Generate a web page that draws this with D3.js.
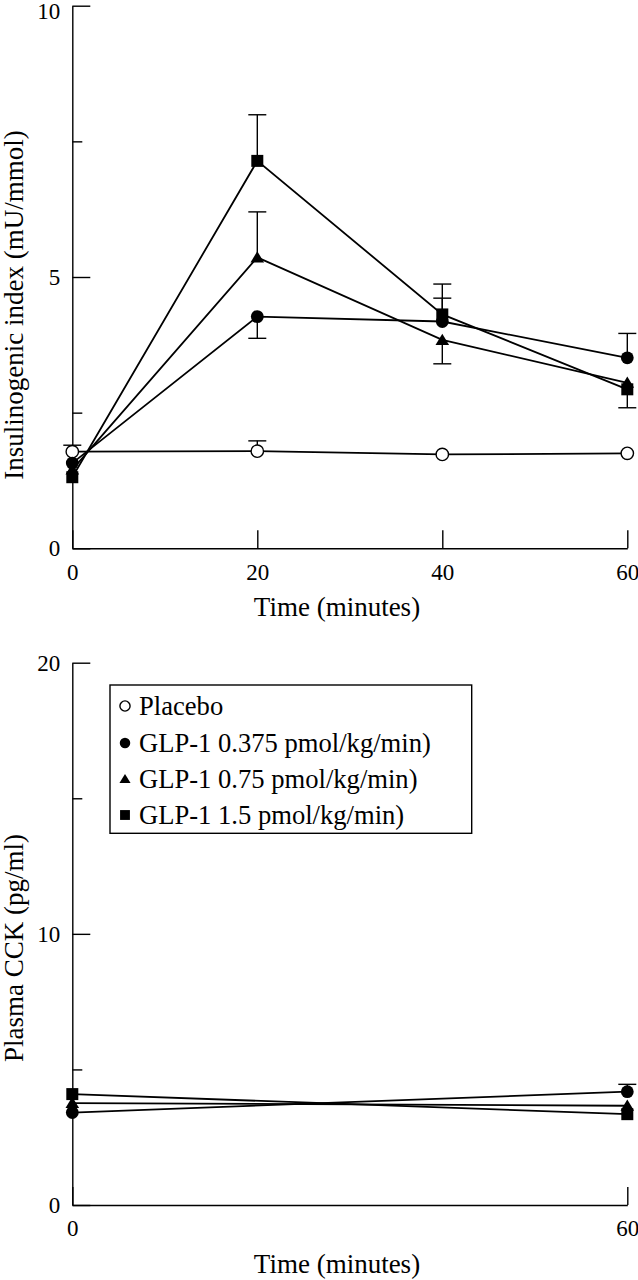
<!DOCTYPE html>
<html>
<head>
<meta charset="utf-8">
<script src="https://cdn.jsdelivr.net/npm/d3@7"></script>
<style>
  html, body { margin: 0; padding: 0; background: #ffffff; }
  svg { display: block; }
  text { font-family: "Liberation Serif", "Times New Roman", serif; fill: #000; }
</style>
</head>
<body>
<svg id="chart" width="638" height="1280"></svg>
<script>
// ---------- Data ----------
const timesTop = [0, 20, 40, 60];
const seriesNames = ["Placebo", "GLP-1 0.375 pmol/kg/min)", "GLP-1 0.75 pmol/kg/min)", "GLP-1 1.5 pmol/kg/min)"];
const seriesShapes = ["openCircle", "circle", "triangle", "square"];

// Insulinogenic index (mU/mmol) means
const placeboIdx = [1.78, 1.79, 1.73, 1.75];
const glpLowIdx  = [1.57, 4.27, 4.18, 3.51];
const glpMidIdx  = [1.45, 5.36, 3.84, 3.05];
const glpHighIdx = [1.31, 7.14, 4.31, 2.93];
// error bar end values (null = not visible)
const placeboIdxErr = [1.90, 1.98, null, null];
const glpLowIdxErr  = [null, 3.87, 4.61, 3.96];
const glpMidIdxErr  = [null, 6.20, 3.40, null];
const glpHighIdxErr = [null, 7.99, 4.87, 2.59];

// Plasma CCK (pg/ml)
const timesBottom = [0, 60];
const glpLowCck  = [3.41, 4.18];
const glpMidCck  = [3.76, 3.66];
const glpHighCck = [4.09, 3.35];
const glpLowCckErr  = [null, 4.45];
const glpMidCckErr  = [null, null];
const glpHighCckErr = [null, null];

const topYTicks = [0, 5, 10];
const topYMinor = [2.5, 7.5];
const topXTicks = [0, 20, 40, 60];
const botYTicks = [0, 10, 20];
const botYMinor = [5, 15];
const botXTicks = [0, 60];

// ---------- Drawing ----------
const svg = d3.select("#chart");

function drawMarker(g, shape, cx, cy, s) {
  if (shape === "openCircle") {
    g.append("circle").attr("cx", cx).attr("cy", cy).attr("r", 6.2 * s)
      .attr("fill", "#fff").attr("stroke", "#000").attr("stroke-width", 1.4);
  } else if (shape === "circle") {
    g.append("circle").attr("cx", cx).attr("cy", cy).attr("r", 6.4 * s).attr("fill", "#000");
  } else if (shape === "square") {
    const h = 6 * s;
    g.append("rect").attr("x", cx - h).attr("y", cy - h).attr("width", 2 * h).attr("height", 2 * h).attr("fill", "#000");
  } else if (shape === "triangle") {
    const w = 6.8 * s, hh = 6.2 * s;
    g.append("path").attr("d", `M${cx},${cy - hh}L${cx + w},${cy + hh * 0.8}L${cx - w},${cy + hh * 0.8}Z`).attr("fill", "#000");
  }
}

function panel(cfg) {
  const x = d3.scaleLinear().domain([0, 60]).range([72.3, 627.3]);
  const y = d3.scaleLinear().domain(cfg.yDomain).range(cfg.yRange);
  const g = svg.append("g");

  // y axis (ticks pointing inward)
  const yAxis = d3.axisLeft(y).tickValues(cfg.yTicks).tickSize(-18).tickSizeOuter(0).tickPadding(12)
    .tickFormat(d3.format("d"));
  const ya = g.append("g").attr("transform", `translate(${x(0)},0)`).call(yAxis);
  const yMinor = d3.axisLeft(y).tickValues(cfg.yMinor).tickSize(-10).tickSizeOuter(0).tickFormat("");
  const ym = g.append("g").attr("transform", `translate(${x(0)},0)`).call(yMinor);
  ym.select(".domain").remove();

  // x axis
  const xAxis = d3.axisBottom(x).tickValues(cfg.xTicks).tickSize(-18).tickSizeOuter(0).tickPadding(15)
    .tickFormat(d3.format("d"));
  const xa = g.append("g").attr("transform", `translate(0,${y(0)})`).call(xAxis);

  [ya, ym, xa].forEach(a => {
    a.selectAll("path, line").attr("stroke", "#000").attr("stroke-width", 1.4);
    a.selectAll("text").attr("font-size", 23).attr("font-family", "Liberation Serif");
  });
  // keep the top label inside the page
  ya.selectAll(".tick text").filter(d => y(d) < 12).attr("dy", "0.56em");

  // titles
  g.append("text").attr("x", 337).attr("y", cfg.xTitleY).attr("text-anchor", "middle")
    .attr("font-size", 27).text("Time (minutes)");
  g.append("text").attr("transform", `translate(23,${cfg.yTitleCenter}) rotate(-90)`)
    .attr("text-anchor", "middle").attr("font-size", 27).text(cfg.yTitle);

  const line = d3.line().x(d => x(d[0])).y(d => y(d[1]));

  // lines
  cfg.series.forEach(s => {
    const pts = cfg.times.map((t, i) => [t, s.values[i]]);
    g.append("path").attr("d", line(pts)).attr("fill", "none").attr("stroke", "#000").attr("stroke-width", 1.8);
  });
  // error bars
  cfg.series.forEach(s => {
    cfg.times.forEach((t, i) => {
      const e = s.err[i];
      if (e == null) return;
      g.append("line").attr("x1", x(t)).attr("x2", x(t)).attr("y1", y(s.values[i])).attr("y2", y(e))
        .attr("stroke", "#000").attr("stroke-width", 1.4);
      g.append("line").attr("x1", x(t) - 9).attr("x2", x(t) + 9).attr("y1", y(e)).attr("y2", y(e))
        .attr("stroke", "#000").attr("stroke-width", 1.4);
    });
  });
  // markers
  cfg.series.forEach(s => {
    cfg.times.forEach((t, i) => drawMarker(g, s.shape, x(t), y(s.values[i]), 1));
  });
  return { x, y, g };
}

panel({
  yDomain: [0, 10], yRange: [548.3, 5.7],
  yTicks: topYTicks, yMinor: topYMinor, xTicks: topXTicks,
  times: timesTop,
  xTitleY: 616, yTitleCenter: 305, yTitle: "Insulinogenic index (mU/mmol)",
  series: [
    { shape: seriesShapes[0], values: placeboIdx, err: placeboIdxErr },
    { shape: seriesShapes[1], values: glpLowIdx, err: glpLowIdxErr },
    { shape: seriesShapes[2], values: glpMidIdx, err: glpMidIdxErr },
    { shape: seriesShapes[3], values: glpHighIdx, err: glpHighIdxErr }
  ]
});

const bottom = panel({
  yDomain: [0, 20], yRange: [1205, 662.7],
  yTicks: botYTicks, yMinor: botYMinor, xTicks: botXTicks,
  times: timesBottom,
  xTitleY: 1273, yTitleCenter: 948, yTitle: "Plasma CCK (pg/ml)",
  series: [
    { shape: seriesShapes[1], values: glpLowCck, err: glpLowCckErr },
    { shape: seriesShapes[2], values: glpMidCck, err: glpMidCckErr },
    { shape: seriesShapes[3], values: glpHighCck, err: glpHighCckErr }
  ]
});

// legend
const lg = bottom.g.append("g");
lg.append("rect").attr("x", 110).attr("y", 685).attr("width", 361.7).attr("height", 148.3)
  .attr("fill", "#fff").attr("stroke", "#000").attr("stroke-width", 1.4);
const rowY = [706, 743, 779, 815];
seriesNames.forEach((name, i) => {
  drawMarker(lg, seriesShapes[i], 125, rowY[i], 0.82);
  lg.append("text").attr("x", 139).attr("y", rowY[i]).attr("dy", "0.35em")
    .attr("font-size", 26.6).text(name);
});
</script>
</body>
</html>
